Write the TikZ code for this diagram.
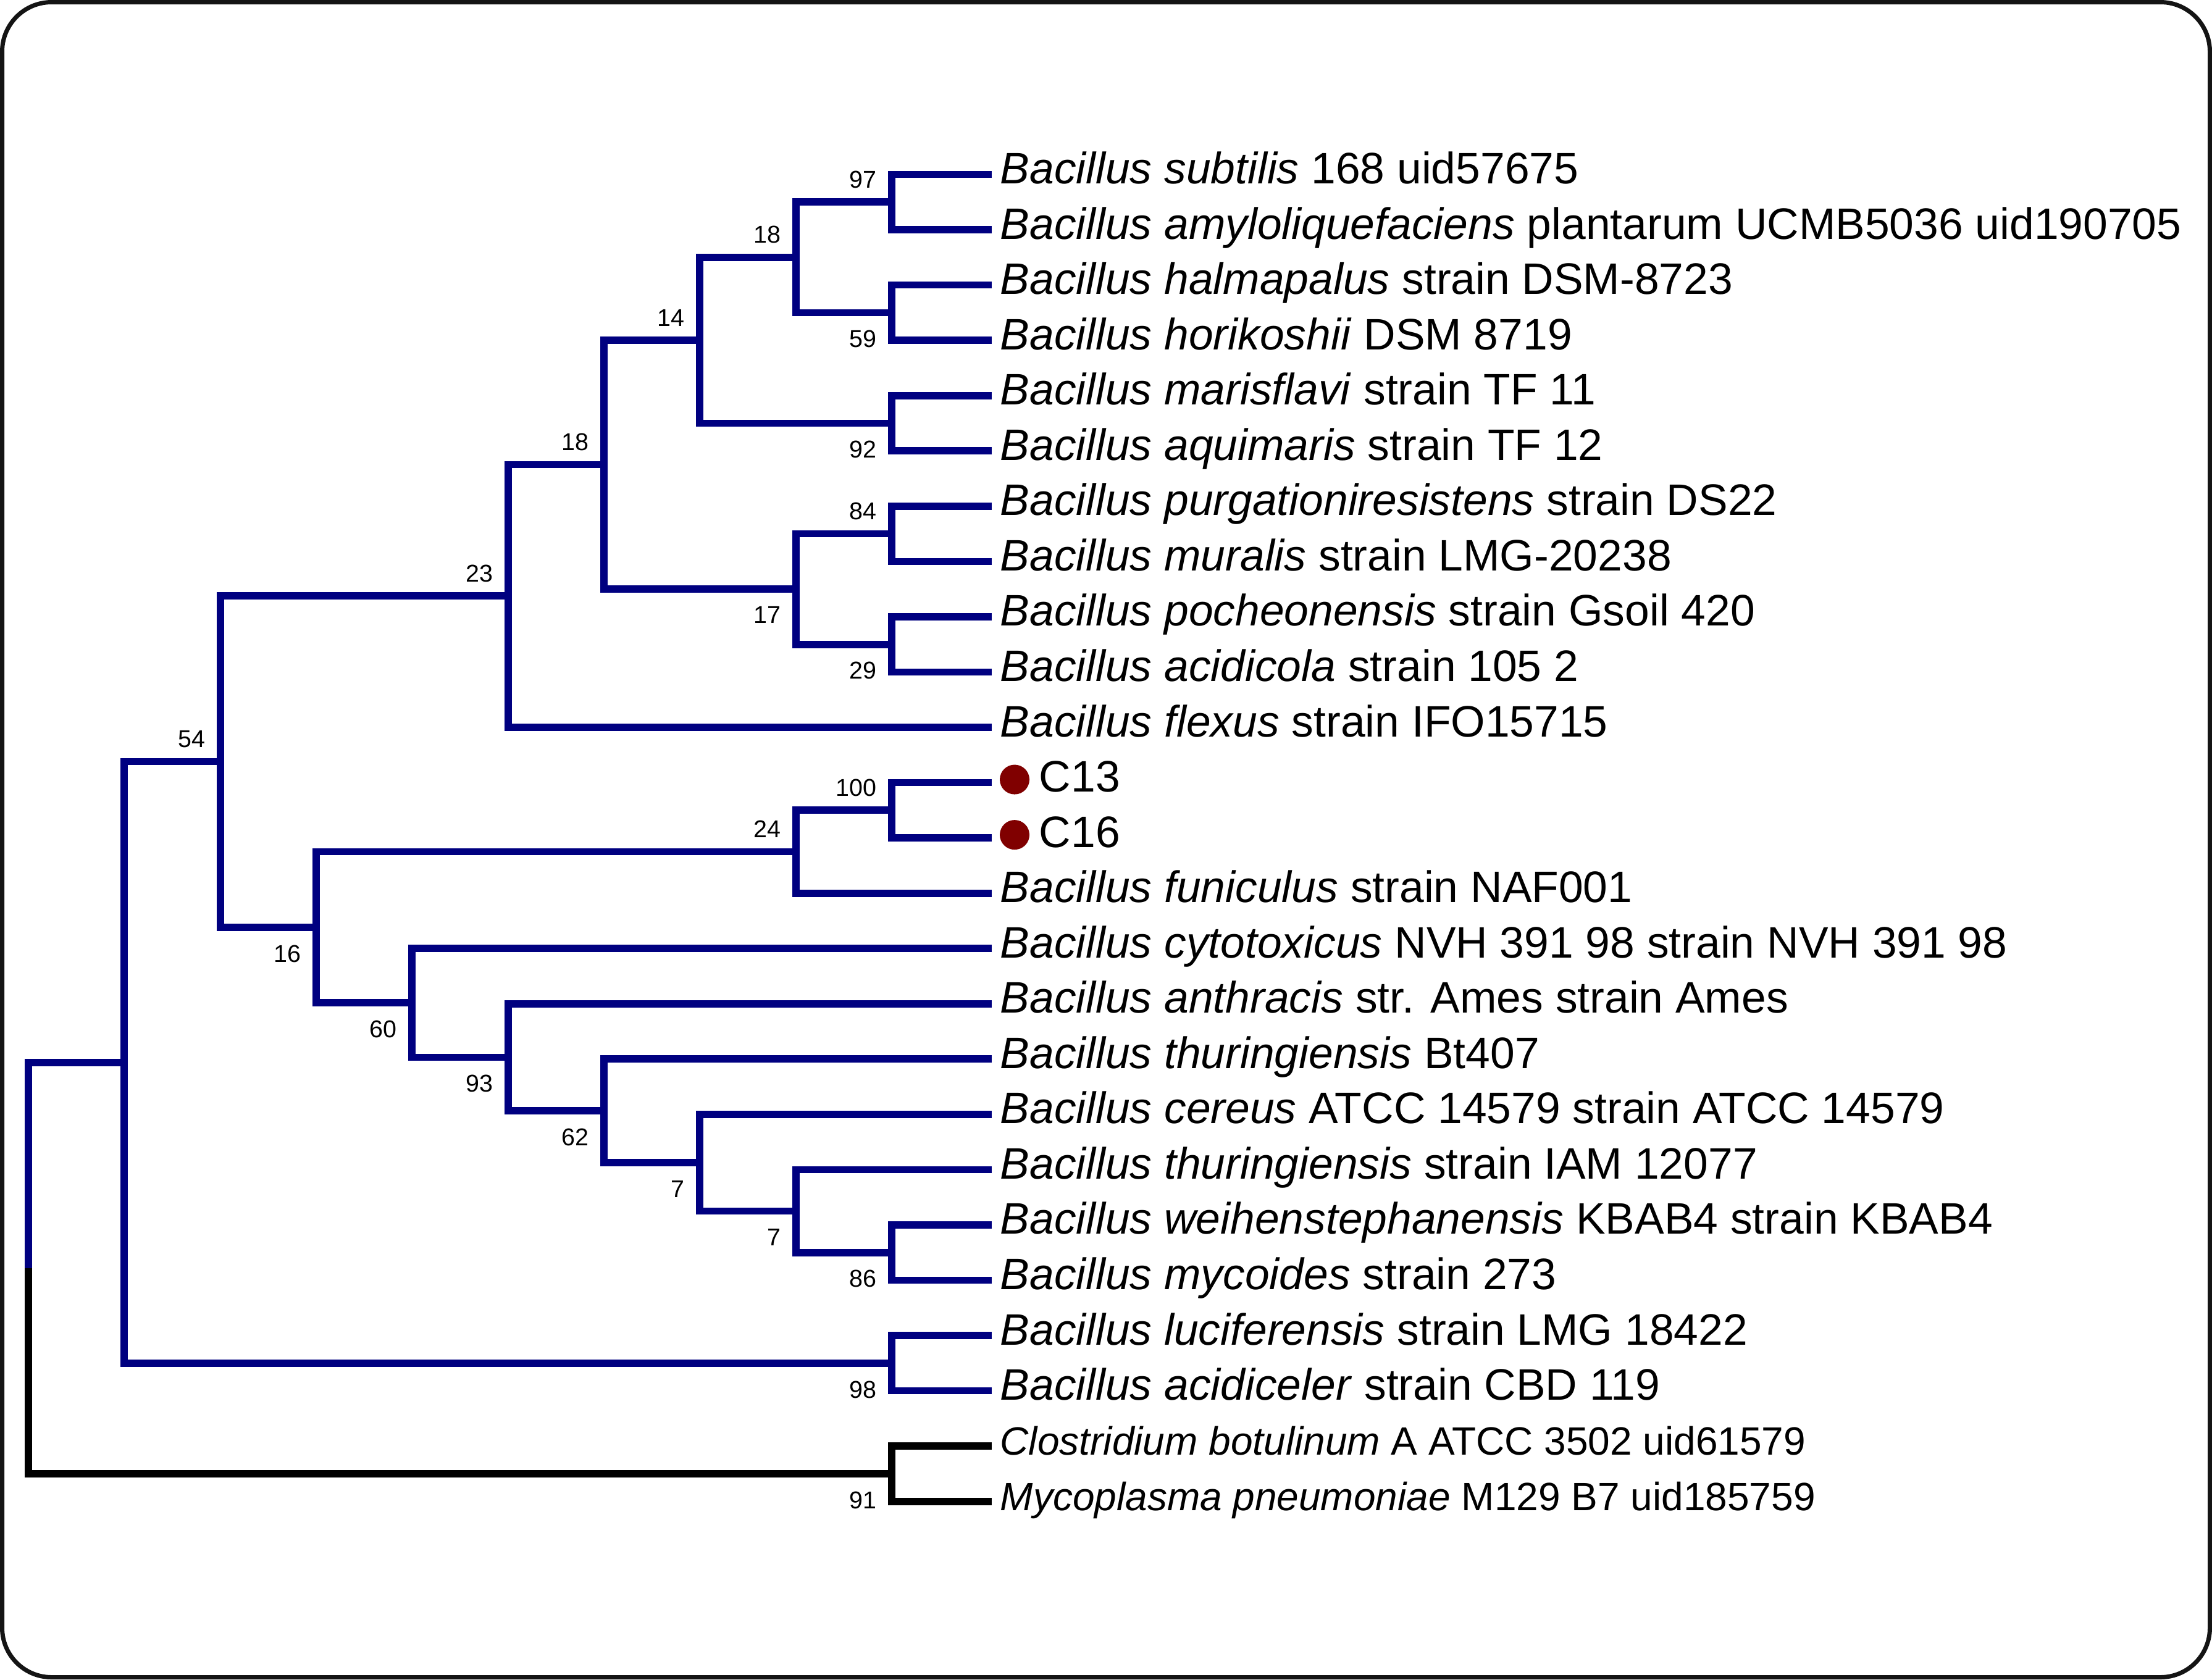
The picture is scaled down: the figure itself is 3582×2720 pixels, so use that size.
\documentclass[tikz,border=0pt]{standalone}
\usepackage{fontspec}
\setmainfont{Liberation Sans}
\usetikzlibrary{calc}
\definecolor{navyb}{RGB}{0,0,128}
\definecolor{dotred}{RGB}{128,0,0}
\definecolor{framec}{RGB}{20,20,20}
\newcommand{\leaffont}{\fontsize{20.3}{24}\selectfont}
\newcommand{\smleaffont}{\fontsize{18.2}{22}\selectfont}
\newcommand{\bsfont}{\fontsize{11.2}{13}\selectfont}
\tikzset{
  br/.style={draw=navyb, line width=0.117cm, line join=miter},
  brk/.style={draw=black, line width=0.117cm, line join=miter},
  leaf/.style={anchor=base west, inner sep=0pt, xshift=0.13cm, yshift=-0.15cm, font=\leaffont},
  smleaf/.style={anchor=base west, inner sep=0pt, xshift=0.13cm, yshift=-0.145cm, font=\smleaffont},
  bsu/.style={anchor=south east, inner sep=0pt, xshift=-0.24cm, yshift=0.22cm, font=\bsfont},
  bsl/.style={anchor=north east, inner sep=0pt, xshift=-0.24cm, yshift=-0.28cm, font=\bsfont},
  sample/.style={circle, fill=dotred, draw=none, minimum size=0.48cm, inner sep=0pt}
}
\begin{document}
\begin{tikzpicture}[x=0.01cm,y=-0.01cm]
\useasboundingbox (0,0) rectangle (3582,2720);
\draw[framec, line width=0.07cm, rounded corners=0.8cm] (3.5,3.5) rectangle (3578.5,2716.5);

% leaf endpoints
\foreach \i in {0,...,24}{
  \coordinate (l\i) at (1606,{282.5+89.55*\i});
}
% internal nodes
\coordinate (root) at (46,2053.8);
\coordinate (nU) at (201.3,1720.7);
\coordinate (n54) at (356.7,1233.6);
\coordinate (n98) at (1444,2207.8);
\coordinate (n91) at (1444,2386.9);
\coordinate (n23) at (822.7,965.3);
\coordinate (n16) at (512,1501.9);
\coordinate (n18b) at (978,752.6);
\coordinate (n14) at (1133.3,551.15);
\coordinate (n18a) at (1288.7,416.8);
\coordinate (n97) at (1444,327.3);
\coordinate (n59) at (1444,506.4);
\coordinate (n92) at (1444,685.5);
\coordinate (n17) at (1288.7,954.1);
\coordinate (n84) at (1444,864.6);
\coordinate (n29) at (1444,1043.7);
\coordinate (n24) at (1288.7,1379.5);
\coordinate (n100) at (1444,1312.3);
\coordinate (n60) at (667.3,1624.3);
\coordinate (n93) at (822.7,1712.5);
\coordinate (n62) at (978,1799.2);
\coordinate (n7a) at (1133.3,1883.2);
\coordinate (n7b) at (1288.7,1961.6);
\coordinate (n86) at (1444,2028.7);

% blue branches
\foreach \p/\c in {root/nU, nU/n54, nU/n98, n54/n23, n54/n16,
  n23/n18b, n23/l10, n18b/n14, n18b/n17, n14/n18a, n14/n92,
  n18a/n97, n18a/n59, n97/l0, n97/l1, n59/l2, n59/l3, n92/l4, n92/l5,
  n17/n84, n17/n29, n84/l6, n84/l7, n29/l8, n29/l9,
  n16/n24, n16/n60, n24/n100, n24/l13, n100/l11, n100/l12,
  n60/l14, n60/n93, n93/l15, n93/n62, n62/l16, n62/n7a,
  n7a/l17, n7a/n7b, n7b/l18, n7b/n86, n86/l19, n86/l20,
  n98/l21, n98/l22}{
  \draw[br] (\p) |- (\c);
}
% black branches
\foreach \p/\c in {root/n91, n91/l23, n91/l24}{
  \draw[brk] (\p) |- (\c);
}

% bootstrap values
\node[bsu] (b97) at (n97) {97};
\node[bsu] (b18a) at (n18a) {18};
\node[bsu] (b14) at (n14) {14};
\node[bsu] (b84) at (n84) {84};
\node[bsu] (b18b) at (n18b) {18};
\node[bsu] (b23) at (n23) {23};
\node[bsu] (b100) at (n100) {100};
\node[bsu] (b24) at (n24) {24};
\node[bsu] (b54) at (n54) {54};
\node[bsl] (b59) at (n59) {59};
\node[bsl] (b92) at (n92) {92};
\node[bsl] (b29) at (n29) {29};
\node[bsl] (b17) at (n17) {17};
\node[bsl] (b16) at (n16) {16};
\node[bsl] (b60) at (n60) {60};
\node[bsl] (b93) at (n93) {93};
\node[bsl] (b62) at (n62) {62};
\node[bsl] (b7a) at (n7a) {7};
\node[bsl] (b7b) at (n7b) {7};
\node[bsl] (b86) at (n86) {86};
\node[bsl] (b98) at (n98) {98};
\node[bsl] (b91) at (n91) {91};

% leaf labels
\node[leaf] (t0) at (l0) {\textit{Bacillus subtilis} 168 uid57675};
\node[leaf] (t1) at (l1) {\textit{Bacillus amyloliquefaciens} plantarum UCMB5036 uid190705};
\node[leaf] (t2) at (l2) {\textit{Bacillus halmapalus} strain DSM-8723};
\node[leaf] (t3) at (l3) {\textit{Bacillus horikoshii} DSM 8719};
\node[leaf] (t4) at (l4) {\textit{Bacillus marisflavi} strain TF 11};
\node[leaf] (t5) at (l5) {\textit{Bacillus aquimaris} strain TF 12};
\node[leaf] (t6) at (l6) {\textit{Bacillus purgationiresistens} strain DS22};
\node[leaf] (t7) at (l7) {\textit{Bacillus muralis} strain LMG-20238};
\node[leaf] (t8) at (l8) {\textit{Bacillus pocheonensis} strain Gsoil 420};
\node[leaf] (t9) at (l9) {\textit{Bacillus acidicola} strain 105 2};
\node[leaf] (t10) at (l10) {\textit{Bacillus flexus} strain IFO15715};
\node[sample] (d11) at ($(l11)+(37,-5)$) {};
\node[leaf, xshift=0.63cm] (t11) at (l11) {C13};
\node[sample] (d12) at ($(l12)+(37,-5)$) {};
\node[leaf, xshift=0.63cm] (t12) at (l12) {C16};
\node[leaf] (t13) at (l13) {\textit{Bacillus funiculus} strain NAF001};
\node[leaf] (t14) at (l14) {\textit{Bacillus cytotoxicus} NVH 391 98 strain NVH 391 98};
\node[leaf] (t15) at (l15) {\textit{Bacillus anthracis} str. Ames strain Ames};
\node[leaf] (t16) at (l16) {\textit{Bacillus thuringiensis} Bt407};
\node[leaf] (t17) at (l17) {\textit{Bacillus cereus} ATCC 14579 strain ATCC 14579};
\node[leaf] (t18) at (l18) {\textit{Bacillus thuringiensis} strain IAM 12077};
\node[leaf] (t19) at (l19) {\textit{Bacillus weihenstephanensis} KBAB4 strain KBAB4};
\node[leaf] (t20) at (l20) {\textit{Bacillus mycoides} strain 273};
\node[leaf] (t21) at (l21) {\textit{Bacillus luciferensis} strain LMG 18422};
\node[leaf] (t22) at (l22) {\textit{Bacillus acidiceler} strain CBD 119};
\node[smleaf] (t23) at (l23) {\textit{Clostridium botulinum} A ATCC 3502 uid61579};
\node[smleaf] (t24) at (l24) {\textit{Mycoplasma pneumoniae} M129 B7 uid185759};
\end{tikzpicture}
\end{document}
